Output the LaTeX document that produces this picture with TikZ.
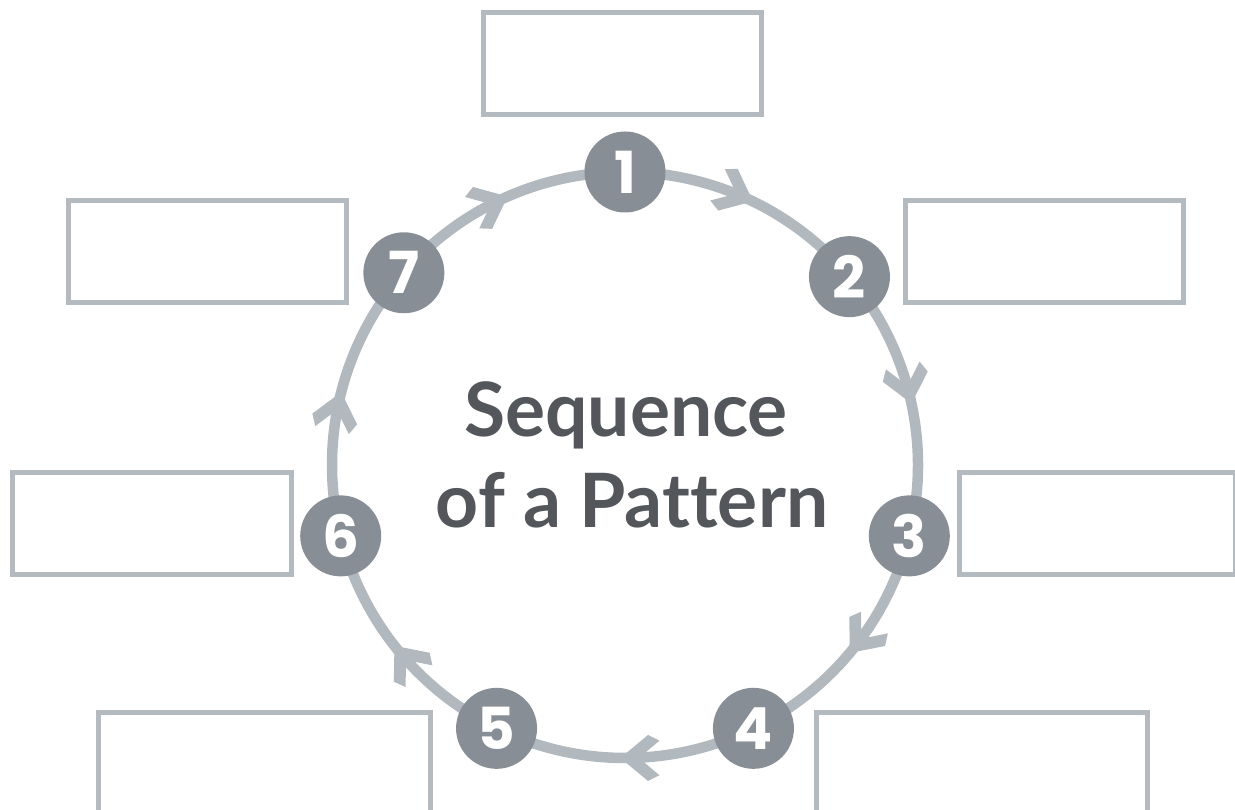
\documentclass[tikz,border=0pt]{standalone}
\usepackage{fontspec}
\setmainfont[Ligatures=NoCommon]{Lato}
\newfontfamily\numfont{Poppins}
\usetikzlibrary{decorations.markings}
\definecolor{ringgray}{HTML}{B1B8BE}
\definecolor{boxgray}{HTML}{B4BBC0}
\definecolor{numgray}{HTML}{878E95}
\definecolor{titlegray}{HTML}{53565A}
\tikzset{
  ring/.style={draw=ringgray, line width=10.5pt},
  midarrow/.style={decoration={markings, mark=at position #1 with {\fill[ringgray, scale=1.15] (4,0) -- (-20,20) -- (-30,15) -- (-12,0) -- (-30,-15) -- (-20,-20) -- cycle;}}, postaction=decorate},
  numnode/.style={circle, fill=numgray, minimum size=81pt, inner sep=0pt, text=white, font=\numfont\fontsize{58}{58}\selectfont\bfseries},
  answerbox/.style={draw=boxgray, line width=5pt, fill=white, inner sep=0pt, minimum height=102pt},
  titletext/.style={text=titlegray, inner sep=0pt, anchor=base, font=\fontsize{75}{75}\selectfont\bfseries}
}
\begin{document}
\begin{tikzpicture}[x=1pt, y=1pt]
\useasboundingbox (0,0) rectangle (1235,810);
\coordinate (c) at (625,345);
% answer boxes
\node[answerbox, minimum width=278pt] (b1) at (622.5,746.5) {};
\node[answerbox, minimum width=278pt] (b2) at (1044.5,558.5) {};
\node[answerbox, minimum width=276pt] (b3) at (1097.5,286.5) {};
\node[answerbox, minimum width=330.5pt] (b4) at (981.75,46.5) {};
\node[answerbox, minimum width=331.7pt] (b5) at (264.4,46.5) {};
\node[answerbox, minimum width=279pt] (b6) at (152,286.5) {};
\node[answerbox, minimum width=278pt] (b7) at (207,558.5) {};
% step positions
\path (c) ++(90:293) coordinate (p1);
\path (c) ++(40:293) coordinate (p2);
\path (c) ++(-14:293) coordinate (p3);
\path (c) ++(-64:293) coordinate (p4);
\path (c) ++(-116:293) coordinate (p5);
\path (c) ++(-166:293) coordinate (p6);
\path (c) ++(139:293) coordinate (p7);
% ring arcs
\draw[ring, midarrow=0.5] (p1) arc[start angle=90, end angle=40, radius=293];
\draw[ring, midarrow=0.5] (p2) arc[start angle=40, end angle=-14, radius=293];
\draw[ring, midarrow=0.5] (p3) arc[start angle=-14, end angle=-64, radius=293];
\draw[ring, midarrow=0.5] (p4) arc[start angle=-64, end angle=-116, radius=293];
\draw[ring, midarrow=0.5] (p5) arc[start angle=-116, end angle=-166, radius=293];
\draw[ring, midarrow=0.5] (p6) arc[start angle=-166, end angle=-221, radius=293];
\draw[ring, midarrow=0.5] (p7) arc[start angle=139, end angle=90, radius=293];
% numbered nodes
\node[numnode] (n1) at (p1) {1};
\node[numnode] (n2) at (p2) {2};
\node[numnode] (n3) at (p3) {3};
\node[numnode] (n4) at (p4) {4};
\node[numnode] (n5) at (p5) {5};
\node[numnode] (n6) at (p6) {6};
\node[numnode] (n7) at (p7) {7};
% title
\node[titletext] (t1) at (626,373) {Sequence};
\node[titletext] (t2) at (632,282) {of a Pattern};
\end{tikzpicture}
\end{document}
